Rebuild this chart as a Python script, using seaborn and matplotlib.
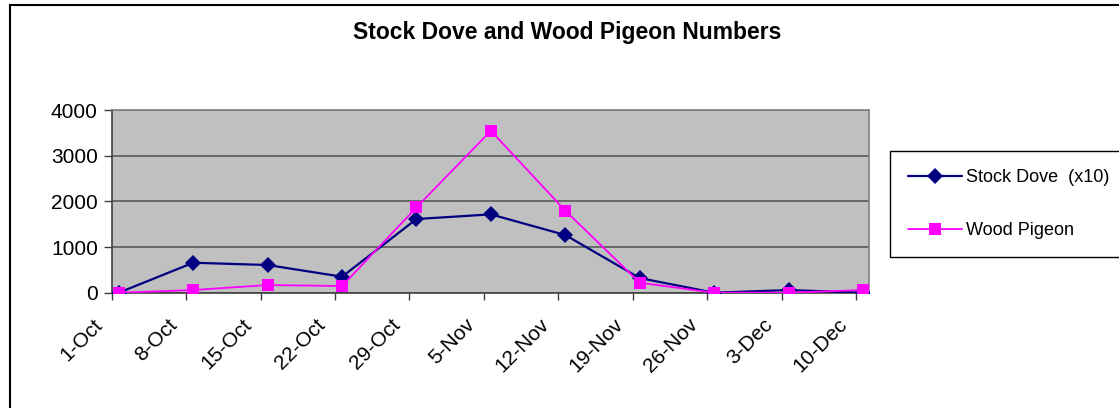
import numpy as np
import pandas as pd
import matplotlib
matplotlib.use("Agg")
import matplotlib.pyplot as plt
import matplotlib.patches as mpatches
import matplotlib.transforms as mtransforms
import seaborn as sns

dates = ["1-Oct", "8-Oct", "15-Oct", "22-Oct", "29-Oct", "5-Nov",
         "12-Nov", "19-Nov", "26-Nov", "3-Dec", "10-Dec"]
stock_dove = [0, 656, 606, 350, 1613, 1715, 1262, 320, 0, 58, 0]
wood_pigeon = [0, 58, 168, 146, 1868, 3545, 1795, 219, 0, 0, 58]

SERIES = {"Stock Dove  (x10)": stock_dove, "Wood Pigeon": wood_pigeon}
COLORS = {"Stock Dove  (x10)": "#000080", "Wood Pigeon": "#FF00FF"}
MARKERS = {"Stock Dove  (x10)": "D", "Wood Pigeon": "s"}

sns.set_theme(style="white")
plt.rcParams["font.family"] = ["Liberation Sans", "DejaVu Sans"]
plt.rcParams["text.color"] = "black"
plt.rcParams["xtick.color"] = "black"
plt.rcParams["ytick.color"] = "black"

rows = []
for name, vals in SERIES.items():
    for i, v in enumerate(vals):
        rows.append({"idx": i, "count": v, "series": name})
df = pd.DataFrame(rows)

fig = plt.figure(figsize=(11.19, 4.08), dpi=100)
ax = fig.add_axes([111.7 / 1119, 1 - 292.7 / 408, (869 - 111.7) / 1119, 182.7 / 408])
ax.set_facecolor("#C0C0C0")

for name in SERIES:
    sub = df[df["series"] == name]
    is_sd = name.startswith("Stock")
    sns.lineplot(data=sub, x="idx", y="count", ax=ax, color=COLORS[name],
                 marker=MARKERS[name], markersize=8 if is_sd else 9,
                 markeredgecolor=COLORS[name], markeredgewidth=0,
                 lw=1.6 if is_sd else 1.3,
                 label=name, zorder=3 if is_sd else 4)

ax.set_xlim(-0.089, 10.08)
ax.set_ylim(0, 4000)
ax.set_yticks([0, 1000, 2000, 3000, 4000])
ax.set_yticklabels(["0", "1000", "2000", "3000", "4000"], fontsize=15)
ax.yaxis.grid(True, color="#505050", lw=1.1)
ax.set_axisbelow(True)

# category ticks sit just left of each data point, as in the original
x = np.arange(len(dates))
ax.set_xticks(x - 0.095)
ax.set_xticklabels(dates, fontsize=15, rotation=45, ha="right", va="top",
                   rotation_mode="anchor")
ax.tick_params(axis="x", length=5, width=1, color="#404040",
               direction="out", bottom=True, pad=11)
ax.tick_params(axis="y", length=6, width=1, color="#404040", direction="out",
               left=True, pad=4)
# nudge rotated labels left (after tick_params, which resets transforms)
shift = mtransforms.ScaledTranslation(-19 / 100, 0, fig.dpi_scale_trans)
for lab in ax.get_xticklabels():
    lab.set_transform(lab.get_transform() + shift)
ax.set_xlabel("")
ax.set_ylabel("")

for side in ["left", "bottom"]:
    ax.spines[side].set_color("#404040")
    ax.spines[side].set_linewidth(1.2)
for side in ["top", "right"]:
    ax.spines[side].set_color("#808080")
    ax.spines[side].set_linewidth(1.2)

fig.text(567 / 1119, 1 - 33 / 408, "Stock Dove and Wood Pigeon Numbers",
         ha="center", va="center", fontsize=16.5, fontweight="bold")

handles, labels = ax.get_legend_handles_labels()
leg = ax.legend(handles, labels, loc="upper left",
                bbox_to_anchor=(890 / 1119, 1 - 151 / 408),
                bbox_transform=fig.transFigure, fontsize=13,
                frameon=True, fancybox=False, edgecolor="black",
                facecolor="white", framealpha=1,
                handlelength=3.0, handletextpad=0.2, labelspacing=2.0,
                borderpad=1.0, borderaxespad=0)
leg.get_frame().set_linewidth(1.0)

border = mpatches.Rectangle((10 / 1119, -0.1), 1.2, 1.1 - 5 / 408,
                            transform=fig.transFigure, fill=False,
                            edgecolor="black", lw=1.5)
fig.patches.append(border)

fig.savefig("out.png", dpi=100)
